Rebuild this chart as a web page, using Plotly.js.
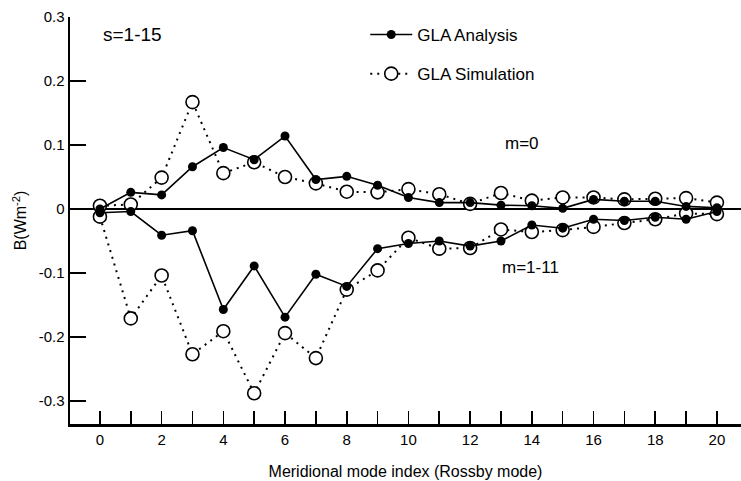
<!DOCTYPE html>
<html>
<head>
<meta charset="utf-8">
<script src="https://cdn.plot.ly/plotly-3.0.1.min.js"></script>
<style>html,body{margin:0;padding:0;background:#fff}#chart{width:741px;height:481px}</style>
</head>
<body>
<div id="chart"></div>
<script>
// Meridional mode index (Rossby mode)
const modeIndex = [0,1,2,3,4,5,6,7,8,9,10,11,12,13,14,15,16,17,18,19,20];

// m=0
const analysisM0   = [0.000,0.026,0.022,0.066,0.096,0.077,0.114,0.046,0.051,0.037,0.018,0.010,0.010,0.006,0.005,0.001,0.015,0.012,0.012,0.004,0.002];
const simulationM0 = [0.005,0.007,0.049,0.167,0.056,0.073,0.050,0.040,0.027,0.026,0.031,0.023,0.008,0.025,0.013,0.018,0.018,0.015,0.016,0.017,0.010];

// m=1-11
const analysisM1_11   = [-0.006,-0.004,-0.041,-0.034,-0.157,-0.089,-0.169,-0.102,-0.121,-0.062,-0.054,-0.050,-0.058,-0.050,-0.025,-0.030,-0.016,-0.018,-0.013,-0.016,-0.004];
const simulationM1_11 = [-0.012,-0.171,-0.104,-0.227,-0.191,-0.288,-0.194,-0.233,-0.126,-0.096,-0.045,-0.062,-0.061,-0.032,-0.036,-0.033,-0.028,-0.022,-0.016,-0.007,-0.008];

const yTickVals = [-0.3,-0.2,-0.1,0,0.1,0.2,0.3];
const yTickText = ['-0.3','-0.2','-0.1','0','0.1','0.2','0.3'];

const seriesNames = ['GLA Analysis','GLA Simulation'];

const font = 'Liberation Sans, Arial, sans-serif';

const simStyle = {
  mode: 'lines+markers',
  line: {color: '#000', width: 2, dash: '2px,5px'},
  marker: {symbol: 'circle', size: 13, color: '#fff', line: {color: '#000', width: 1.6}},
  legendgroup: 'sim', legendrank: 2, name: seriesNames[1], hoverinfo: 'x+y'
};
const anaStyle = {
  mode: 'lines+markers',
  line: {color: '#000', width: 1.6},
  marker: {symbol: 'circle', size: 9, color: '#000'},
  legendgroup: 'ana', legendrank: 1, name: seriesNames[0], hoverinfo: 'x+y'
};

const traces = [
  Object.assign({x: modeIndex, y: simulationM0, showlegend: true}, simStyle),
  Object.assign({x: modeIndex, y: simulationM1_11, showlegend: false}, simStyle),
  Object.assign({x: modeIndex, y: analysisM0, showlegend: true}, anaStyle),
  Object.assign({x: modeIndex, y: analysisM1_11, showlegend: false}, anaStyle)
];

const layout = {
  width: 741, height: 481,
  margin: {l: 70, r: 0, t: 17, b: 57},
  paper_bgcolor: '#fff', plot_bgcolor: '#fff',
  font: {family: font, color: '#000', size: 15},
  showlegend: true,
  legend: {
    x: 0.44, y: 1.0, xanchor: 'left', yanchor: 'top',
    bgcolor: 'rgba(0,0,0,0)', borderwidth: 0,
    traceorder: 'grouped', tracegroupgap: 14,
    font: {family: font, size: 17, color: '#000'},
    itemwidth: 42
  },
  xaxis: {
    range: [-0.97, 20.78],
    showgrid: false, zeroline: false,
    showline: true, linecolor: '#000', linewidth: 2.5,
    ticks: 'inside', ticklen: 13, tickwidth: 1.6, tickcolor: '#000',
    tick0: 0, dtick: 2,
    minor: {dtick: 1, ticks: 'inside', ticklen: 13, tickwidth: 1.6, tickcolor: '#000', showgrid: false},
    tickfont: {family: font, size: 15},
    title: {text: 'Meridional mode index (Rossby mode)', font: {family: font, size: 16}, standoff: 20}
  },
  yaxis: {
    range: [-0.336, 0.3],
    showgrid: false,
    zeroline: true, zerolinecolor: '#000', zerolinewidth: 2,
    showline: true, linecolor: '#000', linewidth: 2.5,
    ticks: 'inside', ticklen: 16, tickwidth: 1.8, tickcolor: '#000',
    tickmode: 'array', tickvals: yTickVals, ticktext: yTickText,
    tickfont: {family: font, size: 15},
    title: {text: 'B(Wm<sup>-2</sup>)', font: {family: font, size: 16}, standoff: 8}
  },
  annotations: [
    {x: 0.04, y: 0.272, xref: 'x', yref: 'y', xanchor: 'left', yanchor: 'middle', showarrow: false,
     text: 's=1-15', font: {family: font, size: 19, color: '#000'}},
    {x: 13.05, y: 0.103, xref: 'x', yref: 'y', xanchor: 'left', yanchor: 'middle', showarrow: false,
     text: 'm=0', font: {family: font, size: 17, color: '#000'}},
    {x: 12.98, y: -0.092, xref: 'x', yref: 'y', xanchor: 'left', yanchor: 'middle', showarrow: false,
     text: 'm=1-11', font: {family: font, size: 17, color: '#000'}}
  ]
};

Plotly.newPlot('chart', traces, layout, {displayModeBar: false, staticPlot: true});
</script>
</body>
</html>
